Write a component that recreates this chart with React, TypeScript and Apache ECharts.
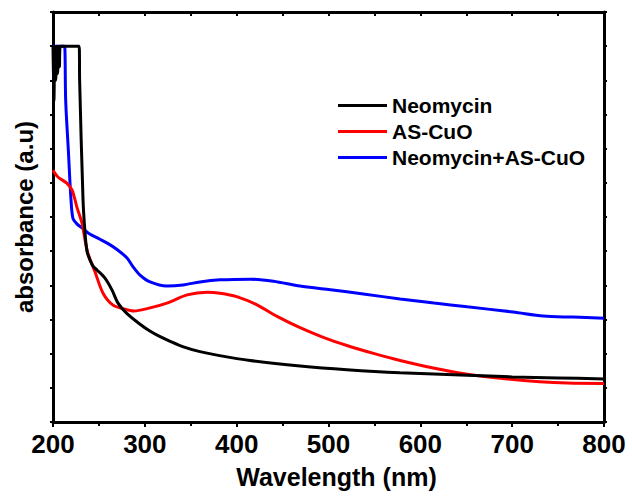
import React, { useEffect, useRef } from "react";
import * as echarts from "echarts";

const seriesNames = ["Neomycin", "AS-CuO", "Neomycin+AS-CuO"];
const seriesColors = ["#000000", "#ff0000", "#0000ff"];

// [wavelength (nm), absorbance (a.u., axis units 0-12)]
const neomycin: number[][] = [
  [200, 11], [201, 9.4], [202, 11], [203, 10.0], [204, 11], [205, 10.2], [206, 11], [207, 10.4], [208, 11],
  [228.5, 11], [229, 10.0], [232.7, 6.5], [234.9, 5.53], [237, 5.0], [240.3, 4.74], [244, 4.55],
  [247.9, 4.45], [256.6, 4.21], [264.3, 3.86], [270.8, 3.48], [280.6, 3.17], [294.8, 2.86],
  [305, 2.67], [315, 2.52], [327, 2.37], [342, 2.2], [360, 2.06], [380, 1.95], [414.6, 1.8],
  [469, 1.64], [520, 1.53], [578, 1.44], [651, 1.37], [700, 1.32], [750, 1.29], [800, 1.26],
];

const asCuO: number[][] = [
  [200, 7.37], [205.4, 7.17], [215, 6.99], [220.7, 6.79], [224, 6.5], [226, 6.29], [231.6, 5.82],
  [234.9, 5.33], [238, 4.94], [245.8, 4.39], [254.5, 3.77], [265.4, 3.42], [278.4, 3.3],
  [288, 3.25], [305.7, 3.34], [324, 3.48], [346, 3.72], [367.7, 3.8], [382, 3.77], [400, 3.67],
  [422, 3.43], [444, 3.09], [469, 2.76], [495, 2.47], [520, 2.24], [550, 2.0], [578, 1.8],
  [614, 1.58], [651, 1.4], [687, 1.28], [730, 1.18], [760, 1.14], [800, 1.13],
];

const combined: number[][] = [
  [200, 11], [212, 11], [213, 10.9], [213.8, 9.42], [216.7, 7.96], [219.6, 6.5], [221.8, 5.95],
  [226, 5.8], [232.7, 5.66], [240, 5.5], [251, 5.35], [260, 5.22], [269.7, 5.05], [280.6, 4.8],
  [287, 4.55], [294.8, 4.3], [305.7, 4.1], [324, 3.98], [341.6, 4.01], [360, 4.1], [382, 4.16],
  [415, 4.18], [440, 4.12], [469, 3.98], [500, 3.88], [540, 3.74], [578, 3.6], [615, 3.48],
  [651, 3.37], [701, 3.22], [734, 3.1], [766, 3.07], [800, 3.04],
];

const seriesData = [neomycin, asCuO, combined];

export default function App() {
  const ref = useRef<HTMLDivElement>(null);
  useEffect(() => {
    if (!ref.current) return;
    const chart = echarts.init(ref.current, null, { renderer: "svg" });
    const font = "'Liberation Sans', Arial, sans-serif";
    const axisLine = { show: true, onZero: false, lineStyle: { color: "#000", width: 3 } };
    chart.setOption({
      animation: false,
      backgroundColor: "#fff",
      grid: { left: 53, right: 28, top: 12, bottom: 81, containLabel: false },
      legend: {
        orient: "vertical",
        left: 338,
        top: 95,
        padding: 0,
        itemWidth: 49,
        itemHeight: 3,
        itemGap: 5,
        icon: "rect",
        textStyle: { fontFamily: font, fontSize: 21, fontWeight: "bold", color: "#000" },
        data: seriesNames,
      },
      xAxis: [
        {
          type: "value",
          position: "bottom",
          min: 200,
          max: 800,
          interval: 100,
          axisLine,
          axisTick: { show: true, length: 5, inside: false, lineStyle: { width: 2, color: "#000" } },
          minorTick: { show: true, splitNumber: 2, length: 4, lineStyle: { width: 2, color: "#000" } },
          splitLine: { show: false },
          axisLabel: { fontFamily: font, fontSize: 26, fontWeight: "bold", color: "#000", margin: 9 },
          name: "Wavelength (nm)",
          nameLocation: "middle",
          nameGap: 42,
          nameTextStyle: { fontFamily: font, fontSize: 25, fontWeight: "bold", color: "#000", padding: [0, 0, 0, 16] },
        },
        {
          type: "value",
          position: "top",
          min: 200,
          max: 800,
          interval: 50,
          axisLine,
          axisTick: { show: true, length: 4, inside: true, lineStyle: { width: 2, color: "#000" } },
          axisLabel: { show: false },
          splitLine: { show: false },
        },
      ],
      yAxis: [
        {
          type: "value",
          position: "left",
          min: 0,
          max: 12,
          interval: 1,
          axisLine,
          axisTick: { show: true, length: 3, lineStyle: { width: 2, color: "#000" } },
          axisLabel: { show: false },
          splitLine: { show: false },
          name: "absorbance (a.u)",
          nameLocation: "middle",
          nameGap: 17,
          nameTextStyle: { fontFamily: font, fontSize: 24, fontWeight: "bold", color: "#000" },
        },
        {
          type: "value",
          position: "right",
          min: 0,
          max: 12,
          interval: 1,
          axisLine,
          axisTick: { show: true, length: 3, lineStyle: { width: 2, color: "#000" } },
          axisLabel: { show: false },
          splitLine: { show: false },
        },
      ],
      series: seriesNames.map((name, i) => ({
        name,
        type: "line",
        xAxisIndex: 0,
        yAxisIndex: 0,
        data: seriesData[i],
        smooth: 0.3,
        showSymbol: false,
        symbol: "none",
        color: seriesColors[i],
        lineStyle: { color: seriesColors[i], width: 3 },
        z: 3 - i,
      })),
    });
    return () => chart.dispose();
  }, []);
  return <div ref={ref} style={{ width: 632, height: 503, position: "absolute", left: 0, top: 0 }} />;
}
